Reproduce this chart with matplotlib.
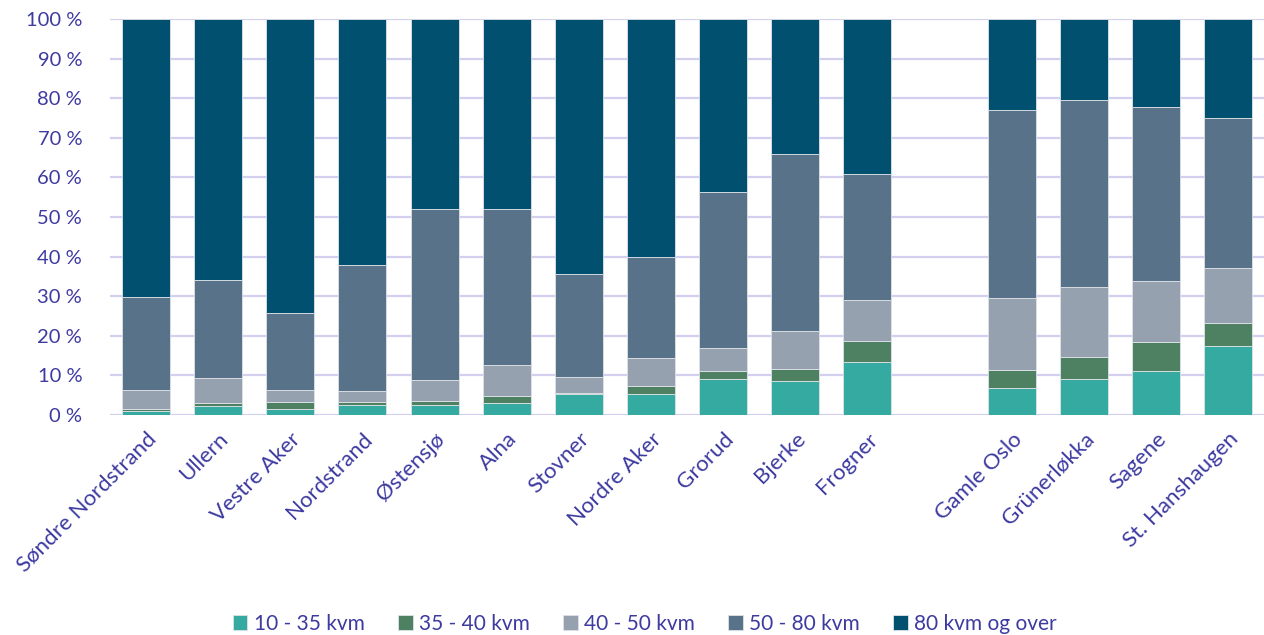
import matplotlib
matplotlib.use("Agg")
import matplotlib.pyplot as plt
import numpy as np

# --- data (share of dwellings by size, per district, %) ------------------
districts = ["Søndre Nordstrand", "Ullern", "Vestre Aker", "Nordstrand",
             "Østensjø", "Alna", "Stovner", "Nordre Aker", "Grorud",
             "Bjerke", "Frogner", "Gamle Oslo", "Grünerløkka", "Sagene",
             "St. Hanshaugen"]
series_names = ["10 - 35 kvm", "35 - 40 kvm", "40 - 50 kvm", "50 - 80 kvm",
                "80 kvm og over"]
s10_35 = [1.1, 2.2, 1.5, 2.6, 2.4, 2.9, 5.2, 5.3, 9.1, 8.6, 13.3,
          6.7, 9.1, 11.1, 17.4]
s35_40 = [0.5, 0.9, 1.7, 0.6, 1.2, 1.8, 0.4, 1.9, 2.1, 3.0, 5.3,
          4.6, 5.5, 7.4, 5.9]
s40_50 = [4.8, 6.3, 3.0, 2.9, 5.3, 7.8, 3.9, 7.2, 5.8, 9.7, 10.5,
          18.3, 17.7, 15.4, 13.7]
s50_80 = [23.5, 24.8, 19.5, 31.9, 43.1, 39.5, 26.2, 25.4, 39.4, 44.5, 31.8,
          47.5, 47.2, 43.9, 38.0]
s80_up = [70.1, 65.8, 74.3, 62.0, 48.0, 48.0, 64.3, 60.2, 43.6, 34.2, 39.1,
          22.9, 20.5, 22.2, 25.0]

COLORS = ["#34aaa1", "#4e8062", "#95a1ae", "#587389", "#02506f"]
TXT = "#3d3aa0"
GRID = "#d3cfee"

plt.rcParams["font.family"] = ["Lato", "DejaVu Sans"]

fig = plt.figure(figsize=(12.64, 6.35), dpi=100)
ax = fig.add_axes([0.087, 0.3465, 0.913, 0.6235])

# one empty slot between the outer and inner districts
x = np.array([i if i < 11 else i + 1 for i in range(len(districts))])

bottom = np.zeros(len(districts))
for name, vals, col in zip(series_names,
                           [s10_35, s35_40, s40_50, s50_80, s80_up], COLORS):
    vals = np.array(vals)
    ax.bar(x, vals, bottom=bottom, width=0.665, color=col, label=name,
           edgecolor="#dfe3e8", linewidth=0.6, zorder=3)
    bottom += vals

ax.set_xlim(-0.5, 15.5)
ax.set_ylim(0, 100)
ax.set_yticks(range(0, 101, 10))
ax.set_yticklabels([f"{v} %" for v in range(0, 101, 10)])
ax.yaxis.grid(True, color=GRID, linewidth=1.6, zorder=0)
ax.set_axisbelow(True)
for s in ax.spines.values():
    s.set_visible(False)

ax.set_xticks(x)
ax.set_xticklabels(districts, rotation=45, ha="right",
                   rotation_mode="anchor")
ax.tick_params(axis="both", length=0, colors=TXT)
ax.tick_params(axis="y", pad=20, labelsize=14.5)
ax.tick_params(axis="x", pad=10, labelsize=16)

fig.legend(loc="lower center", bbox_to_anchor=(0.51, -0.028), ncol=5,
           frameon=False, fontsize=15, handlelength=0.7, handleheight=0.7,
           handletextpad=0.3, columnspacing=1.6, labelcolor=TXT)

fig.savefig("out.png", dpi=100)
